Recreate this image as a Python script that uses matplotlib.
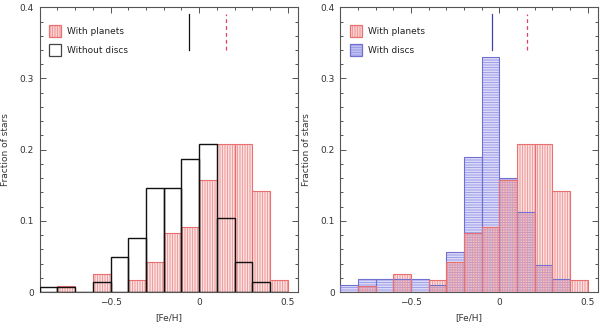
import numpy as np
import matplotlib
matplotlib.use("Agg")
import matplotlib.pyplot as plt
from matplotlib.patches import Rectangle

# ---- data ----
bin_left = [-0.9, -0.8, -0.7, -0.6, -0.5, -0.4, -0.3, -0.2, -0.1, 0.0, 0.1, 0.2, 0.3, 0.4]
bin_width = 0.1
with_planets = [0, 0.0083, 0, 0.025, 0, 0.0167, 0.0417, 0.0833, 0.0917, 0.158, 0.208, 0.208, 0.142, 0.0167]
without_discs = [0.0069, 0.0069, 0, 0.0139, 0.0486, 0.0764, 0.146, 0.146, 0.1875, 0.208, 0.104, 0.0417, 0.0139, 0]
with_discs = [0.0094, 0.0189, 0.0189, 0.0189, 0.0189, 0.0094, 0.0566, 0.189, 0.330, 0.160, 0.113, 0.0377, 0.0189, 0]
mean_planets = 0.15
mean_without = -0.06
mean_discs = -0.04
xticks = [-0.5, 0, 0.5]
xticklabels = ["\u22120.5", "0", "0.5"]
yticks = [0, 0.1, 0.2, 0.3, 0.4]
yticklabels = ["0", "0.1", "0.2", "0.3", "0.4"]

plt.rcParams['font.family'] = ['DejaVu Sans']
plt.rcParams['hatch.linewidth'] = 0.65
FS = 6.5
RED = '#f09494'
RED_EDGE = '#e87070'
BLUE = '#9a9ae8'
BLUE_EDGE = '#7070d0'
AXCOL = '#555555'
VH = '|' * 10
HH = '-' * 10

fig = plt.figure(figsize=(6.0, 3.25), dpi=100)
ax1 = fig.add_axes([0.066, 0.1015, 0.430, 0.876])
ax2 = fig.add_axes([0.567, 0.1015, 0.429, 0.876])

def style(ax):
    ax.set_xlim(-0.9, 0.555)
    ax.set_ylim(0, 0.4)
    ax.set_xticks(xticks)
    ax.set_xticklabels(xticklabels)
    ax.set_yticks(yticks)
    ax.set_yticklabels(yticklabels)
    ax.set_xticks(np.arange(-0.9, 0.56, 0.1), minor=True)
    ax.set_yticks(np.arange(0, 0.401, 0.02), minor=True)
    ax.tick_params(which='both', direction='in', top=True, right=True,
                   colors=AXCOL, labelcolor='#333333', labelsize=FS, width=0.7)
    ax.tick_params(which='major', length=4, pad=4)
    ax.tick_params(which='minor', length=2)
    for s in ax.spines.values():
        s.set_color(AXCOL)
        s.set_linewidth(0.8)
    ax.set_xlabel('[Fe/H]', fontsize=FS, color='#333333', labelpad=5)
    ax.set_ylabel('Fraction of stars', fontsize=FS, color='#333333', labelpad=7)

def legend_patch(ax, y_top, hatch, fc, ec, hc, label):
    r = Rectangle((0.037, y_top - 0.043), 0.046, 0.043, transform=ax.transAxes,
                  facecolor=fc, edgecolor=hc, hatch=hatch, linewidth=0, zorder=5)
    ax.add_patch(r)
    r2 = Rectangle((0.037, y_top - 0.043), 0.046, 0.043, transform=ax.transAxes,
                   fill=False, edgecolor=ec, linewidth=0.9, zorder=6)
    ax.add_patch(r2)
    ax.text(0.107, y_top - 0.0215, label, transform=ax.transAxes, fontsize=FS,
            va='center', ha='left', color='#222222')

# ---- left panel ----
ax1.bar(bin_left, with_planets, width=bin_width, align='edge', facecolor='white',
        edgecolor=RED, hatch=VH, linewidth=0.0, zorder=2)
ax1.bar(bin_left, with_planets, width=bin_width, align='edge', fill=False,
        edgecolor=RED_EDGE, linewidth=0.8, zorder=3)
ax1.bar(bin_left, without_discs, width=bin_width, align='edge', fill=False,
        edgecolor='#111111', linewidth=1.0, zorder=4)
ax1.plot([mean_without, mean_without], [0.34, 0.39], color='#111111', lw=0.9)
ax1.plot([mean_planets, mean_planets], [0.34, 0.39], color='#e04060', lw=0.9,
         dashes=(3, 2.5))
legend_patch(ax1, 0.938, VH, '#fde6e6', RED_EDGE, RED, 'With planets')
legend_patch(ax1, 0.871, None, 'white', '#444444', 'white', 'Without discs')
style(ax1)

# ---- right panel ----
ax2.bar(bin_left, with_discs, width=bin_width, align='edge', facecolor='#f4f4fe',
        edgecolor=BLUE, hatch=HH, linewidth=0.0, zorder=2)
ax2.bar(bin_left, with_planets, width=bin_width, align='edge', facecolor='none',
        edgecolor=RED, hatch=VH, linewidth=0.0, zorder=3)
ax2.bar(bin_left, with_discs, width=bin_width, align='edge', fill=False,
        edgecolor=BLUE_EDGE, linewidth=0.8, zorder=4)
ax2.bar(bin_left, with_planets, width=bin_width, align='edge', fill=False,
        edgecolor=RED_EDGE, linewidth=0.8, zorder=4)
ax2.plot([mean_discs, mean_discs], [0.34, 0.39], color='#4040b0', lw=0.9)
ax2.plot([mean_planets + 0.005, mean_planets + 0.005], [0.34, 0.39], color='#e04060',
         lw=0.9, dashes=(3, 2.5))
legend_patch(ax2, 0.938, VH, '#fde6e6', RED_EDGE, RED, 'With planets')
legend_patch(ax2, 0.871, HH, '#d0d0f6', BLUE_EDGE, BLUE, 'With discs')
style(ax2)

fig.savefig('out.png', dpi=100)
